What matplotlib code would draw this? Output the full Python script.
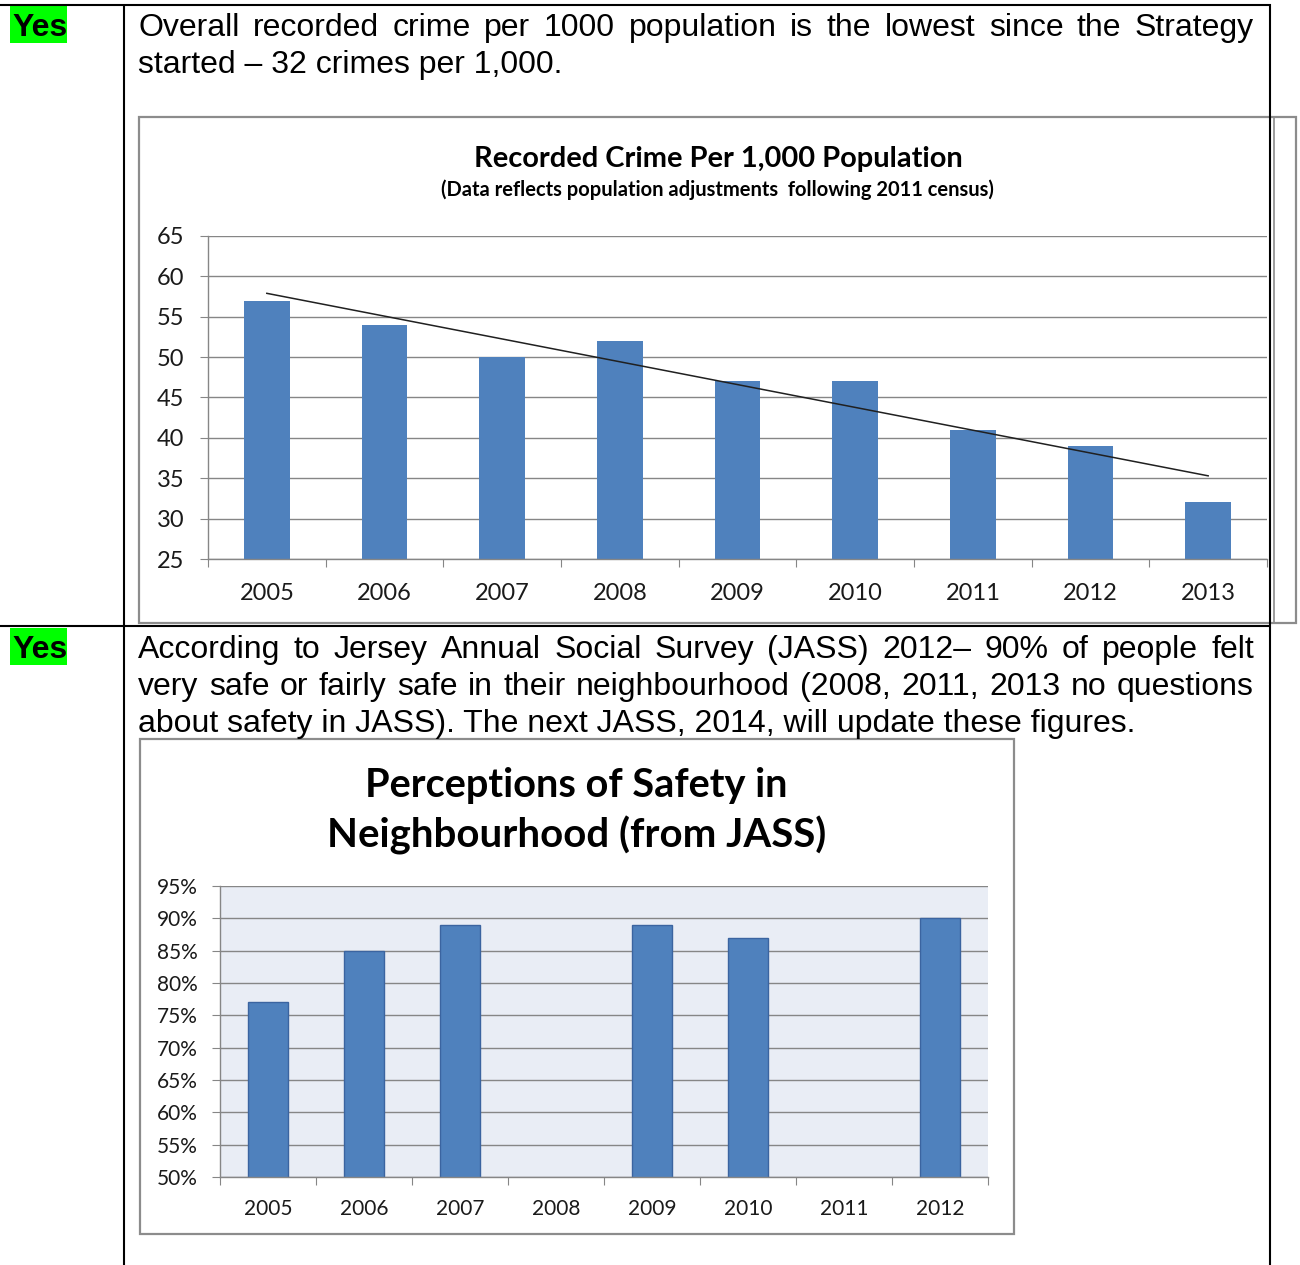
import matplotlib
matplotlib.use('Agg')
import matplotlib.pyplot as plt
import numpy as np
from matplotlib.patches import Rectangle

### Data
crime_years = ['2005', '2006', '2007', '2008', '2009', '2010', '2011', '2012', '2013']
crime_rate = [57, 54, 50, 52, 47, 47, 41, 39, 32]
trend_rate = [57.9, 35.3]          # trend line at 2005 and at 2013
crime_ticks = [25, 30, 35, 40, 45, 50, 55, 60, 65]

safety_years = ['2005', '2006', '2007', '2008', '2009', '2010', '2011', '2012']
safety_pct = [77, 85, 89, np.nan, 89, 87, np.nan, 90]   # no question in 2008 and 2011
safety_ticks = [50, 55, 60, 65, 70, 75, 80, 85, 90, 95]

row1_just = ['Overall recorded crime per 1000 population is the lowest since the Strategy']
row1_last = 'started \u2013 32 crimes per 1,000.'
row2_just = ['According to Jersey Annual Social Survey (JASS) 2012\u2013 90% of people felt',
             'very safe or fairly safe in their neighbourhood (2008, 2011, 2013 no questions']
row2_last = 'about safety in JASS). The next JASS, 2014, will update these figures.'

title1 = 'Recorded Crime Per 1,000 Population'
subtitle1 = '(Data reflects population adjustments  following 2011 census)'
title2 = ['Perceptions of Safety in', 'Neighbourhood (from JASS)']

### Style options
W, H = 1300, 1265
body_font = 'Liberation Sans'
chart_font = 'Lato'
fs_body = 23
bar_blue = '#4F81BD'
grid_grey = '#868686'
box_grey = '#8C8C8C'
txt_col = '#1a1a1a'

fig = plt.figure(figsize=(W/100, H/100), dpi=100)
page = fig.add_axes([0, 0, 1, 1])
page.set_xlim(0, W)
page.set_ylim(H, 0)
page.axis('off')
renderer = fig.canvas.get_renderer()


# Axes rectangle from pixel edges (top-left origin)
def px_box(l, t, r, b):
    return [l/W, 1-b/H, (r-l)/W, (b-t)/H]


def text_width(t):
    return t.get_window_extent(renderer=renderer).width


# Draw a text and scale its size so it spans the given width
def fit_text(x, y, s, width, size, **kw):
    t = page.text(x, y, s, fontsize=size, **kw)
    t.set_fontsize(size*width/text_width(t))
    return t


# Justified line of body text between x0 and x1
def justify(line, x0, x1, y):
    words = line.split()
    ts = [page.text(0, y, w, fontsize=fs_body, family=body_font, va='baseline', color='black')
          for w in words]
    widths = [text_width(t) for t in ts]
    gap = (x1-x0-sum(widths))/(len(ts)-1)
    x = x0
    for t, w in zip(ts, widths):
        t.set_x(x)
        x += w + gap


### Page: chart frames, table lines and body text
page.add_patch(Rectangle((139, 117), 1296-139, 623-117, facecolor='white',
                         edgecolor=box_grey, lw=1.6, zorder=1))
page.add_patch(Rectangle((140, 739), 1014-140, 1234-739, facecolor='white',
                         edgecolor=box_grey, lw=1.6, zorder=1))
page.plot([1274, 1274], [117, 623], color=box_grey, lw=1.2, zorder=2)

lk = dict(color='black', lw=1.5, zorder=3, solid_capstyle='butt')
page.plot([0, 1271], [4.5, 4.5], **lk)
page.plot([0, 1271], [626, 626], **lk)
page.plot([123.5, 123.5], [4, H], **lk)
page.plot([1270, 1270], [4, H], **lk)

for ytop, ybase in [(6, 36), (628, 658)]:
    page.add_patch(Rectangle((10, ytop), 57, 37, facecolor='#00FF00', edgecolor='none', zorder=2))
    page.text(12, ybase, 'Yes', fontsize=fs_body, family=body_font, fontweight='bold',
              va='baseline', color='black', zorder=4)

for i, line in enumerate(row1_just):
    justify(line, 138, 1254, 36 + 37*i)
page.text(138, 36 + 37*len(row1_just), row1_last, fontsize=fs_body, family=body_font,
          va='baseline', color='black')
for i, line in enumerate(row2_just):
    justify(line, 138, 1254, 658 + 37*i)
page.text(138, 658 + 37*len(row2_just), row2_last, fontsize=fs_body, family=body_font,
          va='baseline', color='black')

# Chart titles
fit_text(718, 159, title1, 490, 20, family=chart_font, fontweight='bold', ha='center',
         va='center', color='black', zorder=4)
fit_text(717, 190, subtitle1, 552, 13, family=chart_font, fontweight='bold', ha='center',
         va='center', color='black', zorder=4)
for i, line in enumerate(title2):
    fit_text(576.5, 785 + 50*i, line, [423, 499][i], 26, family=chart_font,
             fontweight='bold', ha='center', va='center', color='black', zorder=4)


### Shared axis styling
def style_axis(ax, n, labels, yticks, ylab, fs, xpad, ypad):
    ax.set_xlim(-0.5, n-0.5)
    ax.set_ylim(yticks[0], yticks[-1])
    ax.set_axisbelow(True)
    ax.yaxis.grid(True, color=grid_grey, lw=1.0)
    for s in ['top', 'right']:
        ax.spines[s].set_visible(False)
    for s in ['left', 'bottom']:
        ax.spines[s].set_color(grid_grey)
        ax.spines[s].set_linewidth(1.0)
    ax.set_xticks(np.arange(-0.5, n, 1))
    ax.set_xticklabels([])
    ax.set_xticks(np.arange(n), minor=True)
    ax.set_xticklabels(labels, minor=True, fontsize=fs, family=chart_font, color=txt_col)
    ax.tick_params(axis='x', which='major', length=5.5, color=grid_grey, direction='out')
    ax.tick_params(axis='x', which='minor', length=0, pad=xpad)
    ax.set_yticks(yticks)
    ax.set_yticklabels(ylab, fontsize=fs, family=chart_font, color=txt_col)
    ax.tick_params(axis='y', length=5.5, color=grid_grey, pad=ypad)


### Recorded crime chart
ax1 = fig.add_axes(px_box(208, 236, 1267, 559))
ax1.set_facecolor('white')
x1 = np.arange(len(crime_years))
ax1.bar(x1, crime_rate, width=0.39, color=bar_blue, zorder=2)
ax1.plot([x1[0], x1[-1]], trend_rate, color='#202020', lw=1.1, zorder=3)
style_axis(ax1, len(crime_years), crime_years, crime_ticks,
           [str(v) for v in crime_ticks], 17, 17.5, 11.5)

### Perceptions of safety chart
ax2 = fig.add_axes(px_box(220, 886, 988, 1177))
ax2.set_facecolor('#E9EDF5')
x2 = np.arange(len(safety_years))
ax2.bar(x2, safety_pct, width=0.41, color=bar_blue, edgecolor='#3B64A0', lw=1.0, zorder=2)
style_axis(ax2, len(safety_years), safety_years, safety_ticks,
           [f'{v}%' for v in safety_ticks], 15, 16, 10.5)

fig.savefig('out.png', dpi=100)
